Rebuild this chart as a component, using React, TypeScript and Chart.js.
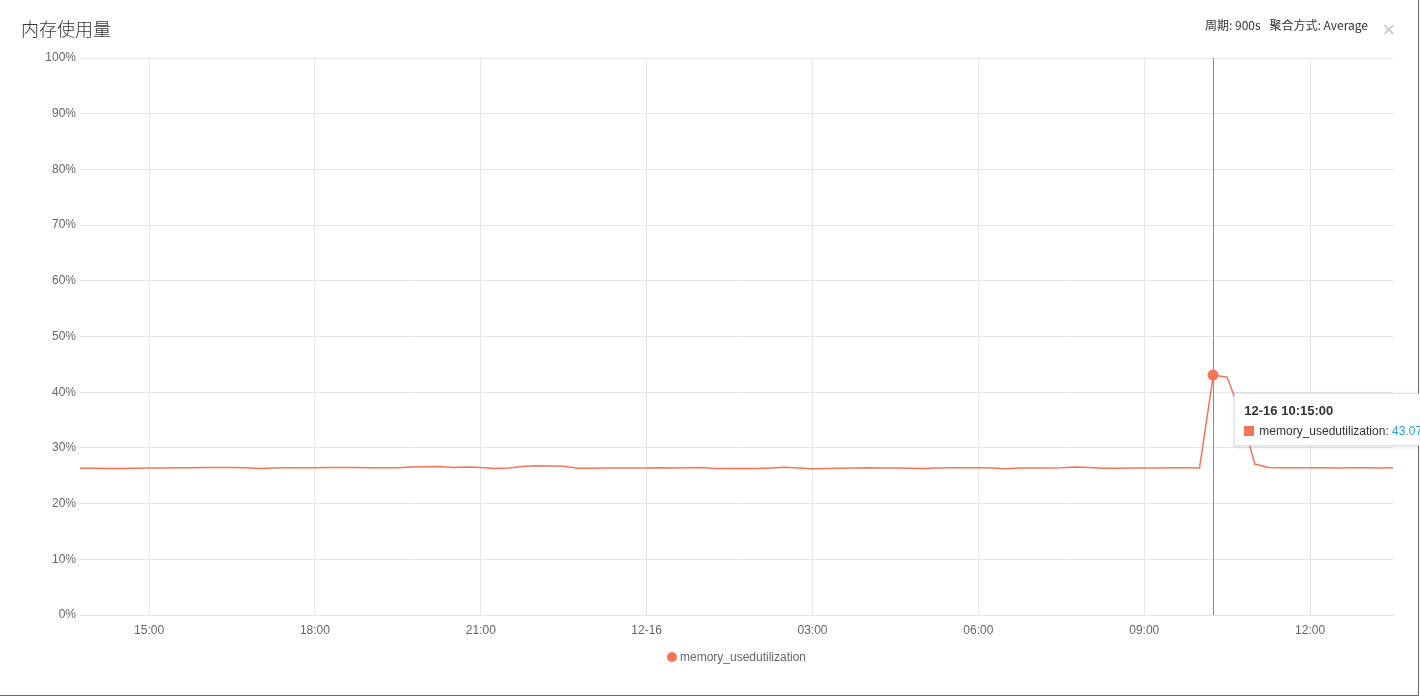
import React, { useEffect, useRef, useState } from 'react';
import { Chart, registerables } from 'chart.js';

Chart.register(...registerables);

const TITLE = '内存使用量';
const HEADER_PERIOD = '周期: 900s';
const HEADER_AGG = '聚合方式: Average';
const SERIES_NAME = 'memory_usedutilization';

const CATEGORIES: string[] = [
  '12-15 13:45',
  '12-15 14:00', '12-15 14:15', '12-15 14:30', '12-15 14:45',
  '12-15 15:00', '12-15 15:15', '12-15 15:30', '12-15 15:45',
  '12-15 16:00', '12-15 16:15', '12-15 16:30', '12-15 16:45',
  '12-15 17:00', '12-15 17:15', '12-15 17:30', '12-15 17:45',
  '12-15 18:00', '12-15 18:15', '12-15 18:30', '12-15 18:45',
  '12-15 19:00', '12-15 19:15', '12-15 19:30', '12-15 19:45',
  '12-15 20:00', '12-15 20:15', '12-15 20:30', '12-15 20:45',
  '12-15 21:00', '12-15 21:15', '12-15 21:30', '12-15 21:45',
  '12-15 22:00', '12-15 22:15', '12-15 22:30', '12-15 22:45',
  '12-15 23:00', '12-15 23:15', '12-15 23:30', '12-15 23:45',
  '12-16 00:00', '12-16 00:15', '12-16 00:30', '12-16 00:45',
  '12-16 01:00', '12-16 01:15', '12-16 01:30', '12-16 01:45',
  '12-16 02:00', '12-16 02:15', '12-16 02:30', '12-16 02:45',
  '12-16 03:00', '12-16 03:15', '12-16 03:30', '12-16 03:45',
  '12-16 04:00', '12-16 04:15', '12-16 04:30', '12-16 04:45',
  '12-16 05:00', '12-16 05:15', '12-16 05:30', '12-16 05:45',
  '12-16 06:00', '12-16 06:15', '12-16 06:30', '12-16 06:45',
  '12-16 07:00', '12-16 07:15', '12-16 07:30', '12-16 07:45',
  '12-16 08:00', '12-16 08:15', '12-16 08:30', '12-16 08:45',
  '12-16 09:00', '12-16 09:15', '12-16 09:30', '12-16 09:45',
  '12-16 10:00', '12-16 10:15', '12-16 10:30', '12-16 10:45',
  '12-16 11:00', '12-16 11:15', '12-16 11:30', '12-16 11:45',
  '12-16 12:00', '12-16 12:15', '12-16 12:30', '12-16 12:45',
  '12-16 13:00', '12-16 13:15', '12-16 13:30',
];

const VALUES: number[] = [
  26.35,
  26.33, 26.3, 26.3, 26.35,
  26.4, 26.4, 26.42, 26.45,
  26.5, 26.5, 26.48, 26.45,
  26.3, 26.4, 26.45, 26.45,
  26.45, 26.48, 26.48, 26.48,
  26.45, 26.42, 26.45, 26.55,
  26.6, 26.65, 26.5, 26.55,
  26.5, 26.3, 26.38, 26.65,
  26.8, 26.75, 26.7, 26.35,
  26.35, 26.4, 26.4, 26.4,
  26.4, 26.42, 26.38, 26.45,
  26.48, 26.3, 26.3, 26.28,
  26.3, 26.4, 26.52, 26.4,
  26.27, 26.3, 26.33, 26.38,
  26.42, 26.4, 26.37, 26.35,
  26.28, 26.4, 26.42, 26.42,
  26.45, 26.4, 26.27, 26.38,
  26.4, 26.38, 26.42, 26.55,
  26.5, 26.33, 26.35, 26.37,
  26.38, 26.4, 26.45, 26.42,
  26.4, 43.07, 42.7, 36.0,
  27.1, 26.5, 26.45, 26.45,
  26.42, 26.45, 26.4, 26.42,
  26.42, 26.4, 26.42,
];

const TICK_CATEGORIES: string[] = [
  '12-15 15:00', '12-15 18:00', '12-15 21:00', '12-16 00:00',
  '12-16 03:00', '12-16 06:00', '12-16 09:00', '12-16 12:00',
];
const TICK_LABELS: string[] = ['15:00', '18:00', '21:00', '12-16', '03:00', '06:00', '09:00', '12:00'];

const ACTIVE_CATEGORY = '12-16 10:15';

const SERIES_COLOR = '#f87457';
const CROSSHAIR_COLOR = '#ee6a40';
const GRID_COLOR = '#e6e6e6';
const FONT = "'Liberation Sans', Arial, sans-serif";

type Geo = { x: number; y: number; left: number; right: number };

export default function App() {
  const canvasRef = useRef<HTMLCanvasElement>(null);
  const [geo, setGeo] = useState<Geo | null>(null);
  const activeIndex = CATEGORIES.indexOf(ACTIVE_CATEGORY);

  useEffect(() => {
    const canvas = canvasRef.current;
    if (!canvas) return;

    const crosshair = {
      id: 'crosshair',
      afterDatasetsDraw(chart: any) {
        const ctx = chart.ctx;
        const x = Math.round(chart.scales.x.getPixelForValue(activeIndex)) + 0.5;
        const { top, bottom } = chart.chartArea;
        ctx.save();
        ctx.globalAlpha = 1;
        ctx.strokeStyle = CROSSHAIR_COLOR;
        ctx.lineWidth = 1;
        ctx.setLineDash([]);
        ctx.beginPath();
        ctx.moveTo(x, top);
        ctx.lineTo(x, bottom);
        ctx.stroke();
        // redraw active point on top
        const y = chart.scales.y.getPixelForValue(VALUES[activeIndex]);
        ctx.fillStyle = SERIES_COLOR;
        ctx.beginPath();
        ctx.arc(x - 0.5, y, 5.5, 0, Math.PI * 2);
        ctx.fill();
        ctx.restore();
      },
    };

    const chart = new Chart(canvas, {
      type: 'line',
      data: {
        labels: CATEGORIES,
        datasets: [
          {
            label: SERIES_NAME,
            data: VALUES,
            borderColor: SERIES_COLOR,
            backgroundColor: SERIES_COLOR,
            borderWidth: 1.5,
            tension: 0,
            fill: false,
            pointRadius: 0,
            pointHoverRadius: 0,
          },
        ],
      },
      plugins: [crosshair],
      options: {
        responsive: false,
        animation: false,
        devicePixelRatio: 1,
        events: [],
        layout: { padding: { left: 0, right: 25, top: 58, bottom: 52 } },
        font: { family: FONT },
        plugins: {
          tooltip: { enabled: false },
          title: { display: false },
          legend: { display: false },
        },
        scales: {
          x: {
            type: 'category',
            offset: false,
            border: { display: true, color: GRID_COLOR },
            grid: {
              drawTicks: false,
              color: (ctx: any) =>
                TICK_CATEGORIES.indexOf(CATEGORIES[ctx.index]) >= 0 ? GRID_COLOR : 'rgba(0,0,0,0)',
            },
            ticks: {
              autoSkip: false,
              maxRotation: 0,
              minRotation: 0,
              padding: 8,
              color: '#666',
              font: { family: FONT, size: 12 },
              callback: (_v: any, i: number) => {
                const k = TICK_CATEGORIES.indexOf(CATEGORIES[i]);
                return k >= 0 ? TICK_LABELS[k] : '';
              },
            },
            afterFit: (scale: any) => {
              scale.height = 28;
            },
          },
          y: {
            min: 0,
            max: 100,
            border: { display: false },
            grid: { drawTicks: false, color: GRID_COLOR },
            ticks: {
              stepSize: 10,
              padding: 4,
              color: '#666',
              font: { family: FONT, size: 12 },
              callback: (v: any) => v + '%',
            },
            afterFit: (scale: any) => {
              scale.width = 80;
            },
          },
        },
      },
    } as any);

    const px = chart.scales.x.getPixelForValue(activeIndex);
    const py = chart.scales.y.getPixelForValue(VALUES[activeIndex]);
    setGeo({ x: px, y: py, left: chart.chartArea.left, right: chart.chartArea.right });

    return () => chart.destroy();
  }, []);

  return (
    <div style={{ position: 'fixed', left: 0, top: 0, width: '100vw', height: '100vh', overflow: 'hidden', background: '#fff' }}>
      <div
        style={{
          position: 'absolute',
          left: 0,
          top: 0,
          width: 1419,
          height: 696,
          boxSizing: 'border-box',
          borderRight: '1px solid #666',
          borderBottom: '1px solid #666',
          background: '#fff',
        }}
      >
        <canvas ref={canvasRef} width={1418} height={695} style={{ position: 'absolute', left: 0, top: 0, width: 1418, height: 695 }} />
        <div
          style={{
            position: 'absolute',
            left: 21,
            top: 18,
            fontSize: 18,
            lineHeight: '20px',
            color: '#333',
            fontWeight: 300,
            fontFamily: "'Noto Sans CJK SC', sans-serif",
            whiteSpace: 'nowrap',
          }}
        >
          {TITLE}
        </div>
        <div
          style={{
            position: 'absolute',
            right: 50,
            top: 17,
            fontSize: 12,
            lineHeight: '16px',
            color: '#333',
            fontFamily: "'Noto Sans CJK SC', sans-serif",
            whiteSpace: 'nowrap',
            display: 'flex',
            gap: 9,
          }}
        >
          <span>{HEADER_PERIOD}</span>
          <span>{HEADER_AGG}</span>
        </div>
        <div
          style={{
            position: 'absolute',
            left: 1378,
            top: 19,
            width: 22,
            textAlign: 'center',
            fontSize: 22,
            lineHeight: '22px',
            color: '#c4c4c4',
            fontFamily: FONT,
          }}
        >
          ×
        </div>
        {geo && (
          <div
            style={{
              position: 'absolute',
              left: geo.left,
              width: geo.right - geo.left,
              top: 649,
              height: 16,
              display: 'flex',
              justifyContent: 'center',
              alignItems: 'center',
              fontFamily: FONT,
              fontSize: 12,
              color: '#666',
              whiteSpace: 'nowrap',
            }}
          >
            <span style={{ display: 'inline-block', width: 10, height: 10, borderRadius: '50%', background: SERIES_COLOR, marginRight: 3 }} />
            <span>{SERIES_NAME}</span>
          </div>
        )}
      </div>
      {geo && (
        <div
          style={{
            position: 'absolute',
            left: geo.x + 21,
            top: geo.y + 18,
            background: '#fff',
            border: '1px solid #dde3ea',
            boxShadow: '0 1px 4px rgba(0,0,0,0.12)',
            padding: '9px 9px 6px 9px',
            whiteSpace: 'nowrap',
            fontFamily: FONT,
          }}
        >
          <div style={{ fontWeight: 'bold', fontSize: 13, lineHeight: '16px', color: '#333' }}>
            {CATEGORIES[activeIndex] + ':00'}
          </div>
          <div style={{ marginTop: 4, fontSize: 12, lineHeight: '16px', color: '#333', display: 'flex', alignItems: 'center' }}>
            <span style={{ display: 'inline-block', width: 10, height: 10, background: SERIES_COLOR, marginRight: 5 }} />
            <span>{SERIES_NAME}:&nbsp;</span>
            <span style={{ color: '#2a9fd6' }}>{VALUES[activeIndex].toFixed(2)}</span>
          </div>
        </div>
      )}
    </div>
  );
}
